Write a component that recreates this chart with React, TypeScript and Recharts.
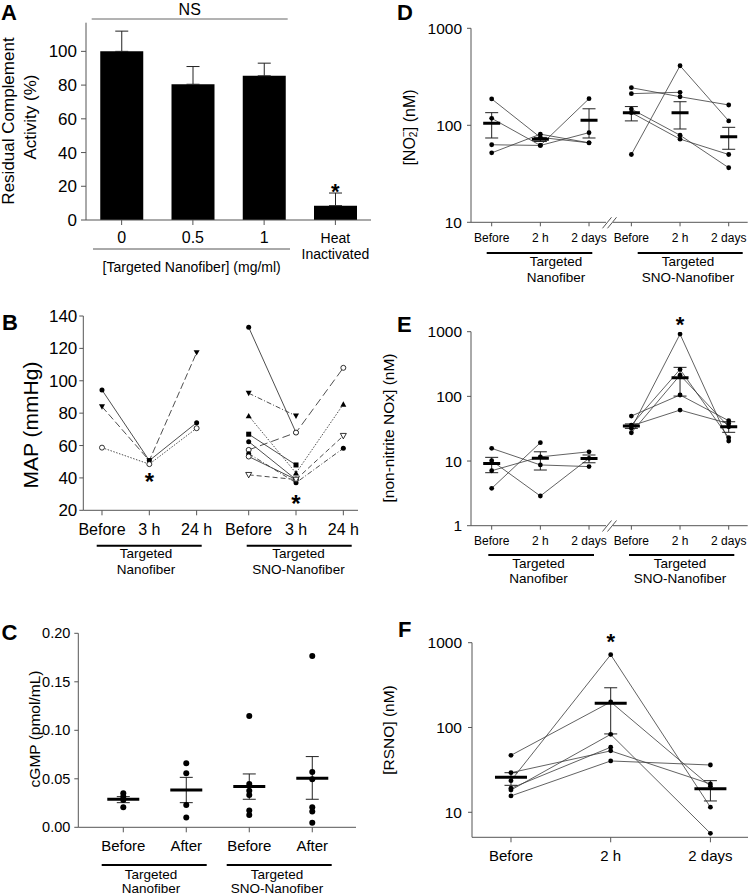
import React from 'react'
import {
  ComposedChart,
  Bar,
  Line,
  Scatter,
  XAxis,
  YAxis,
  ErrorBar,
  ReferenceDot,
} from 'recharts'

const FONT = '"Liberation Sans", Arial, Helvetica, sans-serif'
const AXIS = '#555'
const SUBJECT = '#3a3a3a'

// ---------- A: residual complement activity
const A_CATS = ['0', '0.5', '1', 'Heat Inactivated']
const A_VALUES = [100, 80.5, 85.5, 8.5]
const A_SEM = [12, 10.5, 7.5, 7.5]
const A_TICKS = [0, 20, 40, 60, 80, 100]

// ---------- B: MAP per animal (Before, 3 h, 24 h)
const B_TIMES = ['Before', '3 h', '24 h']
const B_TICKS = [20, 40, 60, 80, 100, 120, 140]
const B_NANO: (number | null)[][] = [
  [94.3, 50.7, 74.1],
  [84, 50.7, 117.4],
  [58.7, 48.5, 70.7],
]
const B_SNO: (number | null)[][] = [
  [133, 68, null],
  [92.3, 78.3, null],
  [78.3, 43, 85.5],
  [67, 48, null],
  [62.4, 39, null],
  [57.3, 68, 108],
  [55, 37, 58.3],
  [53.2, 39, null],
  [41.9, 39, 66],
]

// ---------- C: cGMP
const C_LABELS = ['Before', 'After', 'Before', 'After']
const C_POINTS = [
  [0.035, 0.0316, 0.0282, 0.0206],
  [0.066, 0.0557, 0.023, 0.01],
  [0.1148, 0.0447, 0.0378, 0.0333, 0.0172, 0.0127],
  [0.1766, 0.057, 0.0495, 0.0206, 0.0162, 0.0048],
]
const C_MEAN = [0.0289, 0.0385, 0.042, 0.0505]
const C_LO = [0.0254, 0.0254, 0.0289, 0.0289]
const C_HI = [0.0316, 0.0515, 0.055, 0.0729]
const C_TICKS = [0, 0.05, 0.1, 0.15, 0.2]

// ---------- D: nitrite
const DE_TIMES = ['Before', '2 h', '2 days']
const LOG_TICKS_D = [10, 100, 1000]
const D_NANO: (number | null)[][] = [
  [187, 75, 66],
  [118, 62, 188],
  [63, 62, 84],
  [52, 81, 66],
]
const D_NANO_MEAN = [105, 71.7, 112.6]
const D_NANO_LO = [74, 68, 74]
const D_NANO_HI = [135, 75, 148]
const D_SNO: (number | null)[][] = [
  [244, 197, 162],
  [212, 219, null],
  [50, 411, 111],
  [147, 79, 36.5],
  [135, 72, 50],
]
const D_SNO_MEAN = [135, 135, 76.3]
const D_SNO_LO = [111, 91.6, 56.6]
const D_SNO_HI = [156, 175, 95.3]

// ---------- E: non-nitrite NOx
const LOG_TICKS_E = [1, 10, 100, 1000]
const E_NANO: (number | null)[][] = [
  [15.7, 8.7, 8.2],
  [10.1, 2.88, 11],
  [3.78, 19.2, null],
  [7.08, 11.6, 13.9],
]
const E_NANO_MEAN = [9.2, 11.0, 10.9]
const E_NANO_LO = [6.6, 7.26, 9.4]
const E_NANO_HI = [11.4, 13.9, 12.4]
const E_SNO: (number | null)[][] = [
  [32, 918, 20.4],
  [36, 261, 22.9],
  [27.4, 213, 33.9],
  [49.6, 105, 42],
  [35, 61.4, 38],
]
const E_SNO_MEAN = [34.8, 194, 33.9]
const E_SNO_LO = [32, 101, 27.8]
const E_SNO_HI = [37.5, 281, 40.5]

// ---------- F: RSNO
const F_SUBJECTS: (number | null)[][] = [
  [47, 200, 20.3],
  [23.6, 722, 11.5],
  [18.3, 83, 5.65],
  [29.3, 53, 21.6],
  [19.2, 58.5, null],
  [15.6, 40.3, 36.1],
]
const F_MEAN = [25.9, 193, 19]
const F_LO = [20.8, 84, 13.6]
const F_HI = [29.3, 294, 23.6]

// x positions of the categories on numeric axes (layout only)
const X3 = [0, 1, 2]
const B_X2 = [3.1, 4.1, 5.1]
const DE_X2 = [2.87, 3.87, 4.87]
const C_X = [0, 1, 2, 3]

type MarkerKind = 'circle' | 'openCircle' | 'triDown' | 'openTriDown' | 'triUp' | 'square'
const B_NANO_STYLE: { m: MarkerKind; dash?: string }[] = [
  { m: 'circle' },
  { m: 'triDown', dash: '7 3' },
  { m: 'openCircle', dash: '1.5 1.5' },
]
const B_SNO_STYLE: { m: MarkerKind; dash?: string }[] = [
  { m: 'circle' },
  { m: 'triDown', dash: '5 2 1 2' },
  { m: 'triUp', dash: '1.5 1.5' },
  { m: 'square' },
  { m: 'circle' },
  { m: 'openCircle', dash: '8 4' },
  { m: 'circle', dash: '5 2 1 2' },
  { m: 'openCircle' },
  { m: 'openTriDown', dash: '5 3' },
]

function Marker({ kind, cx, cy }: { kind: MarkerKind; cx: number; cy: number }) {
  if (cx == null || cy == null || isNaN(cx) || isNaN(cy)) return null
  const s = 3
  switch (kind) {
    case 'openCircle':
      return <circle cx={cx} cy={cy} r={2.5} fill="#fff" stroke="#000" strokeWidth={0.8} />
    case 'triDown':
      return <polygon points={`${cx - s},${cy - s * 0.8} ${cx + s},${cy - s * 0.8} ${cx},${cy + s}`} fill="#000" />
    case 'openTriDown':
      return (
        <polygon
          points={`${cx - s},${cy - s * 0.8} ${cx + s},${cy - s * 0.8} ${cx},${cy + s}`}
          fill="#fff"
          stroke="#000"
          strokeWidth={0.8}
        />
      )
    case 'triUp':
      return <polygon points={`${cx - s},${cy + s * 0.8} ${cx + s},${cy + s * 0.8} ${cx},${cy - s}`} fill="#000" />
    case 'square':
      return <rect x={cx - 2.5} y={cy - 2.5} width={5} height={5} fill="#000" />
    default:
      return <circle cx={cx} cy={cy} r={2.5} fill="#000" />
  }
}

function Star({ cx, cy, size = 24 }: { cx: number; cy: number; size?: number }) {
  return (
    <text x={cx} y={cy + size * 0.57} textAnchor="middle" fontFamily={FONT} fontSize={size} fontWeight="bold" fill="#000">
      *
    </text>
  )
}

function toPoints(vals: (number | null)[], xs: number[]) {
  return vals
    .map((y, j) => ({ x: xs[j], y }))
    .filter((p) => p.y !== null)
}

function subjectLines(rows: (number | null)[][], xs: number[], id: string) {
  return rows.map((vals, i) => (
    <Line
      key={`${id}-${i}`}
      data={toPoints(vals, xs)}
      dataKey="y"
      type="linear"
      stroke={SUBJECT}
      strokeWidth={0.8}
      dot={{ r: 2.4, fill: '#000', stroke: '#000', strokeWidth: 0 }}
      activeDot={false}
      isAnimationActive={false}
    />
  ))
}

function styledLines(
  rows: (number | null)[][],
  xs: number[],
  styles: { m: MarkerKind; dash?: string }[],
  id: string,
) {
  return rows.map((vals, i) => (
    <Line
      key={`${id}-${i}`}
      data={toPoints(vals, xs)}
      dataKey="y"
      type="linear"
      stroke={SUBJECT}
      strokeWidth={0.9}
      strokeDasharray={styles[i].dash}
      dot={(p: any) => <Marker key={`${id}-${i}-${p.index}`} kind={styles[i].m} cx={p.cx} cy={p.cy} />}
      activeDot={false}
      isAnimationActive={false}
    />
  ))
}

function meanMarks(
  means: number[],
  lo: number[],
  hi: number[],
  xs: number[],
  halfW: number,
  capW: number,
  id: string,
) {
  const data = means.map((m, i) => ({ x: xs[i], y: m, err: [m - lo[i], hi[i] - m] }))
  return (
    <Scatter
      key={id}
      data={data}
      dataKey="y"
      isAnimationActive={false}
      shape={(p: any) => (
        <line x1={p.cx - halfW} x2={p.cx + halfW} y1={p.cy} y2={p.cy} stroke="#000" strokeWidth={3} />
      )}
    >
      <ErrorBar dataKey="err" direction="y" width={capW} stroke="#222" strokeWidth={1} />
    </Scatter>
  )
}

const tickStyle = (size: number) => ({ fill: '#000', fontSize: size, fontFamily: FONT })

function ATick(props: any) {
  const { x, y, payload } = props
  const words = String(payload.value).split(' ')
  const fs = words.length > 1 ? 14 : 16
  return (
    <text x={x} y={y} textAnchor="middle" fontFamily={FONT} fontSize={fs} fill="#000">
      {words.map((w, i) => (
        <tspan key={i} x={x} dy={16}>
          {w}
        </tspan>
      ))}
    </text>
  )
}

function PanelA() {
  const data = A_CATS.map((c, i) => ({ cat: c, v: A_VALUES[i], err: [0, A_SEM[i]] }))
  return (
    <ComposedChart
      width={375}
      height={290}
      data={data}
      barCategoryGap="20%"
      margin={{ top: 22.7, left: 36, right: 4, bottom: 40 }}
    >
      <XAxis
        dataKey="cat"
        type="category"
        axisLine={{ stroke: AXIS }}
        tickLine={{ stroke: AXIS }}
        tickSize={5}
        tickMargin={2}
        interval={0}
        tick={<ATick />}
      />
      <YAxis
        width={50}
        domain={[0, 117]}
        allowDataOverflow
        ticks={A_TICKS}
        interval={0}
        axisLine={{ stroke: AXIS }}
        tickLine={{ stroke: AXIS }}
        tickSize={5}
        tickMargin={4}
        tick={tickStyle(17)}
      />
      <Bar dataKey="v" fill="#000" isAnimationActive={false}>
        <ErrorBar dataKey="err" direction="y" width={6.5} stroke="#222" strokeWidth={1} />
      </Bar>
      <ReferenceDot x="Heat Inactivated" y={20} ifOverflow="visible" shape={(p: any) => <Star cx={p.cx} cy={p.cy} size={22} />} />
    </ComposedChart>
  )
}

function PanelB() {
  const ticks = [...X3, ...B_X2]
  const labels = [...B_TIMES, ...B_TIMES]
  return (
    <ComposedChart width={375} height={290} margin={{ top: 26, left: 33.3, right: 17, bottom: 39.7 }}>
      <XAxis
        dataKey="x"
        type="number"
        domain={[-0.395, 5.41]}
        allowDataOverflow
        ticks={ticks}
        interval={0}
        tickFormatter={(_v: number, i: number) => labels[i]}
        axisLine={{ stroke: AXIS }}
        tickLine={{ stroke: AXIS }}
        tickSize={5}
        tickMargin={8}
        tick={tickStyle(16)}
      />
      <YAxis
        width={50}
        domain={[20, 140]}
        allowDataOverflow
        ticks={B_TICKS}
        interval={0}
        axisLine={{ stroke: AXIS }}
        tickLine={{ stroke: AXIS }}
        tickSize={4}
        tickMargin={2}
        tick={tickStyle(17)}
      />
      {styledLines(B_NANO, X3, B_NANO_STYLE, 'bn')}
      {styledLines(B_SNO, B_X2, B_SNO_STYLE, 'bs')}
      <ReferenceDot x={1} y={40.8} ifOverflow="visible" shape={(p: any) => <Star cx={p.cx} cy={p.cy} />} />
      <ReferenceDot x={4.1} y={27.5} ifOverflow="visible" shape={(p: any) => <Star cx={p.cx} cy={p.cy} />} />
    </ComposedChart>
  )
}

function PanelC() {
  const pts = C_POINTS.flatMap((arr, i) => arr.map((y) => ({ x: C_X[i], y })))
  return (
    <ComposedChart width={375} height={315} margin={{ top: 53.3, left: 28.3, right: 19, bottom: 37.7 }}>
      <XAxis
        dataKey="x"
        type="number"
        domain={[-0.714, 3.694]}
        allowDataOverflow
        ticks={C_X}
        interval={0}
        tickFormatter={(_v: number, i: number) => C_LABELS[i]}
        axisLine={{ stroke: AXIS }}
        tickLine={{ stroke: AXIS }}
        tickSize={5}
        tickMargin={8}
        tick={tickStyle(15)}
      />
      <YAxis
        width={50}
        domain={[0, 0.2]}
        allowDataOverflow
        ticks={C_TICKS}
        interval={0}
        tickFormatter={(v: number) => v.toFixed(2)}
        axisLine={{ stroke: AXIS }}
        tickLine={{ stroke: AXIS }}
        tickSize={4}
        tickMargin={4}
        tick={tickStyle(14.5)}
      />
      <Scatter
        data={pts}
        dataKey="y"
        isAnimationActive={false}
        shape={(p: any) => <circle cx={p.cx} cy={p.cy} r={3} fill="#000" />}
      />
      {meanMarks(C_MEAN, C_LO, C_HI, C_X, 16, 6.5, 'cm')}
    </ComposedChart>
  )
}

function LogPanel({
  height,
  margin,
  domain,
  ticks,
  xDomain,
  xs1,
  xs2,
  labels,
  tickSize,
  tickMargin,
  yTickMargin,
  xFont,
  children,
}: any) {
  return (
    <ComposedChart width={375} height={height} margin={margin}>
      <XAxis
        dataKey="x"
        type="number"
        domain={xDomain}
        allowDataOverflow
        ticks={[...xs1, ...(xs2 || [])]}
        interval={0}
        tickFormatter={(_v: number, i: number) => labels[i]}
        axisLine={{ stroke: AXIS }}
        tickLine={{ stroke: AXIS }}
        tickSize={tickSize}
        tickMargin={tickMargin}
        tick={tickStyle(xFont)}
      />
      <YAxis
        width={50}
        scale="log"
        domain={domain}
        allowDataOverflow
        ticks={ticks}
        interval={0}
        axisLine={{ stroke: AXIS }}
        tickLine={{ stroke: AXIS }}
        tickSize={4}
        tickMargin={yTickMargin}
        tick={tickStyle(15.5)}
      />
      {children}
    </ComposedChart>
  )
}

function PanelD() {
  return (
    <LogPanel
      height={290}
      margin={{ top: 28.3, left: 46, right: 2.3, bottom: 37.7 }}
      domain={[10, 1000]}
      ticks={LOG_TICKS_D}
      xDomain={[-0.425, 5.26]}
      xs1={X3}
      xs2={DE_X2}
      labels={[...DE_TIMES, ...DE_TIMES]}
      tickSize={4}
      tickMargin={7}
      yTickMargin={5}
      xFont={12}
    >
      {subjectLines(D_NANO, X3, 'dn')}
      {subjectLines(D_SNO, DE_X2, 'ds')}
      {meanMarks(D_NANO_MEAN, D_NANO_LO, D_NANO_HI, X3, 8.5, 6.5, 'dnm')}
      {meanMarks(D_SNO_MEAN, D_SNO_LO, D_SNO_HI, DE_X2, 8.5, 6.5, 'dsm')}
    </LogPanel>
  )
}

function PanelE() {
  return (
    <LogPanel
      height={290}
      margin={{ top: 41.7, left: 46, right: 2.3, bottom: 24.3 }}
      domain={[1, 1000]}
      ticks={LOG_TICKS_E}
      xDomain={[-0.425, 5.26]}
      xs1={X3}
      xs2={DE_X2}
      labels={[...DE_TIMES, ...DE_TIMES]}
      tickSize={4}
      tickMargin={7}
      yTickMargin={5}
      xFont={12}
    >
      {subjectLines(E_NANO, X3, 'en')}
      {subjectLines(E_SNO, DE_X2, 'es')}
      {meanMarks(E_NANO_MEAN, E_NANO_LO, E_NANO_HI, X3, 8.5, 6.5, 'enm')}
      {meanMarks(E_SNO_MEAN, E_SNO_LO, E_SNO_HI, DE_X2, 8.5, 6.5, 'esm')}
      <ReferenceDot x={3.87} y={1567} ifOverflow="visible" shape={(p: any) => <Star cx={p.cx} cy={p.cy} size={22} />} />
    </LogPanel>
  )
}

function PanelF() {
  return (
    <LogPanel
      height={315}
      margin={{ top: 62.7, left: 47, right: 2, bottom: 27.7 }}
      domain={[5.07, 1000]}
      ticks={LOG_TICKS_D}
      xDomain={[-0.391, 2.377]}
      xs1={X3}
      labels={DE_TIMES}
      tickSize={5}
      tickMargin={8}
      yTickMargin={6}
      xFont={15}
    >
      {subjectLines(F_SUBJECTS, X3, 'f')}
      {meanMarks(F_MEAN, F_LO, F_HI, X3, 16, 6.5, 'fm')}
      <ReferenceDot x={1} y={1178} ifOverflow="visible" shape={(p: any) => <Star cx={p.cx} cy={p.cy} size={22} />} />
    </LogPanel>
  )
}

function VLabel({ x, y, size, children }: { x: number; y: number; size: number; children: React.ReactNode }) {
  return (
    <text
      x={x}
      y={y}
      textAnchor="middle"
      dominantBaseline="central"
      fontFamily={FONT}
      fontSize={size}
      fill="#000"
      transform={`rotate(-90 ${x} ${y})`}
    >
      {children}
    </text>
  )
}

function GroupLabel({ x, y1, y2, line2 }: { x: number; y1: number; y2: number; line2: string }) {
  return (
    <g fontFamily={FONT} fontSize={13.5} fill="#000" textAnchor="middle">
      <text x={x} y={y1} dominantBaseline="central">
        Targeted
      </text>
      <text x={x} y={y2} dominantBaseline="central">
        {line2}
      </text>
    </g>
  )
}

function Overlay() {
  const letters = [
    { ch: 'A', x: 1, y: 19.5 },
    { ch: 'B', x: 2, y: 330 },
    { ch: 'C', x: 1.5, y: 640 },
    { ch: 'D', x: 397, y: 19.5 },
    { ch: 'E', x: 397, y: 332 },
    { ch: 'F', x: 398, y: 637 },
  ]
  const underline = { stroke: '#000', strokeWidth: 2 }
  return (
    <svg width={750} height={895} style={{ position: 'absolute', left: 0, top: 0, pointerEvents: 'none' }}>
      {letters.map((l) => (
        <text key={l.ch} x={l.x} y={l.y} fontFamily={FONT} fontSize={22} fontWeight="bold" fill="#000">
          {l.ch}
        </text>
      ))}

      {/* A */}
      <text x={189.7} y={9} textAnchor="middle" dominantBaseline="central" fontFamily={FONT} fontSize={16} fill="#000">
        NS
      </text>
      <line x1={91.7} x2={287.7} y1={19} y2={19} stroke="#666" strokeWidth={1} />
      <line x1={93} x2={290} y1={249} y2={249} stroke="#555" strokeWidth={1} />
      <text x={191.7} y={267} textAnchor="middle" dominantBaseline="central" fontFamily={FONT} fontSize={14} fill="#000">
        [Targeted Nanofiber] (mg/ml)
      </text>
      <VLabel x={8.5} y={121} size={17}>
        Residual Complement
      </VLabel>
      <VLabel x={30.5} y={117} size={17}>
        Activity (%)
      </VLabel>

      {/* B */}
      <VLabel x={30.7} y={425} size={21}>
        MAP (mmHg)
      </VLabel>
      <line x1={96.7} x2={201.7} y1={545.7} y2={545.7} {...underline} />
      <line x1={246.7} x2={351.7} y1={545.7} y2={545.7} {...underline} />
      <GroupLabel x={146} y1={553.7} y2={569.3} line2="Nanofiber" />
      <GroupLabel x={298.5} y1={553.7} y2={569.3} line2="SNO-Nanofiber" />

      {/* C */}
      <VLabel x={34} y={729} size={15.5}>
        cGMP (pmol/mL)
      </VLabel>
      <line x1={101.7} x2={206.7} y1={865} y2={865} {...underline} />
      <line x1={226.7} x2={331.7} y1={865} y2={865} {...underline} />
      <GroupLabel x={151} y1={874} y2={888.7} line2="Nanofiber" />
      <GroupLabel x={277} y1={874} y2={888.7} line2="SNO-Nanofiber" />

      {/* D */}
      <VLabel x={409} y={127.5} size={16}>
        [NO
        <tspan fontSize={10} dy={4}>
          2
        </tspan>
        <tspan fontSize={10} dx={-5.5} dy={-10}>
          −
        </tspan>
        <tspan dy={6}>] (nM)</tspan>
      </VLabel>
      <line x1={486.7} x2={592.3} y1={253} y2={253} {...underline} />
      <line x1={637.7} x2={742.7} y1={253} y2={253} {...underline} />
      <GroupLabel x={556} y1={261.3} y2={277} line2="Nanofiber" />
      <GroupLabel x={688} y1={261.3} y2={277} line2="SNO-Nanofiber" />
      <rect x={606} y={219.3} width={7} height={6} fill="#fff" />
      <line x1={602.5} y1={228.3} x2={611.5} y2={217.3} stroke={AXIS} strokeWidth={1} />
      <line x1={607.5} y1={228.3} x2={616.5} y2={217.3} stroke={AXIS} strokeWidth={1} />

      {/* E */}
      <VLabel x={388.3} y={428} size={15.5}>
        [non-nitrite NOx] (nM)
      </VLabel>
      <line x1={488.3} x2={594} y1={555} y2={555} {...underline} />
      <line x1={629} x2={734.3} y1={555} y2={555} {...underline} />
      <GroupLabel x={538.5} y1={563} y2={578.5} line2="Nanofiber" />
      <GroupLabel x={680} y1={563} y2={578.5} line2="SNO-Nanofiber" />
      <rect x={606} y={522.7} width={7} height={6} fill="#fff" />
      <line x1={602.5} y1={531.5} x2={611.5} y2={520.5} stroke={AXIS} strokeWidth={1} />
      <line x1={607.5} y1={531.5} x2={616.5} y2={520.5} stroke={AXIS} strokeWidth={1} />

      {/* F */}
      <VLabel x={388} y={730} size={15.5}>
        [RSNO] (nM)
      </VLabel>
    </svg>
  )
}

const box = (x: number, y: number): React.CSSProperties => ({ position: 'absolute', left: x, top: y })

export default function App() {
  return (
    <div
      style={{
        position: 'absolute',
        left: 0,
        top: 0,
        width: 750,
        height: 895,
        background: '#fff',
        fontFamily: FONT,
        overflow: 'hidden',
      }}
    >
      <div style={box(0, 0)}>
        <PanelA />
      </div>
      <div style={box(0, 290)}>
        <PanelB />
      </div>
      <div style={box(0, 580)}>
        <PanelC />
      </div>
      <div style={box(375, 0)}>
        <PanelD />
      </div>
      <div style={box(375, 290)}>
        <PanelE />
      </div>
      <div style={box(375, 580)}>
        <PanelF />
      </div>
      <Overlay />
    </div>
  )
}
